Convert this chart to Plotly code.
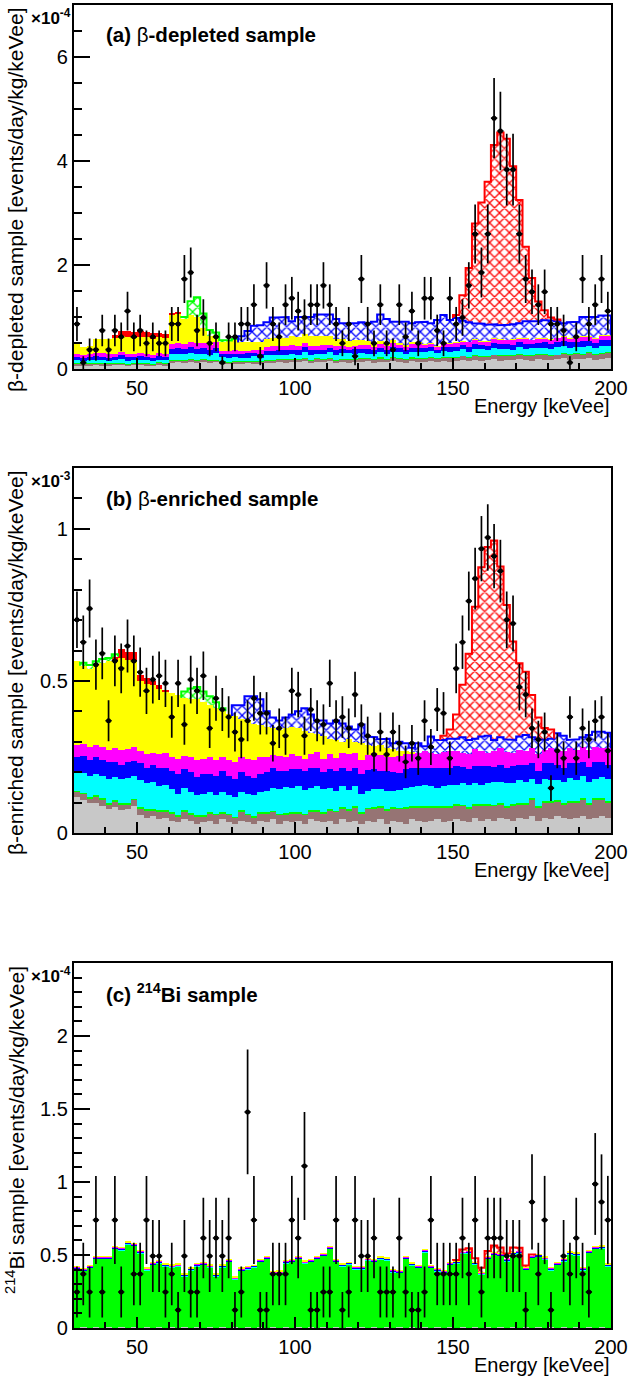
import math
import plotly.graph_objects as go

W, H = 630, 1378
FONT = "Liberation Sans"

# ---------------- bins (2 keVee wide, 30-200) ----------------
bin_left = list(range(30, 200, 2))
bin_center = [b + 1 for b in bin_left]

# ---------------- panel (a) beta-depleted, units 1e-4 ----------------
a_gray = [0.07,0.06,0.07,0.08,0.06,0.07,0.08,0.07,0.06,0.08,
          0.07,0.07,0.06,0.08,0.07,0.12,0.13,0.12,0.14,0.12,
          0.13,0.12,0.13,0.10,0.09,0.10,0.09,0.11,0.10,0.10,
          0.12,0.12,0.13,0.12,0.14,0.13,0.15,0.12,0.14,0.13,
          0.15,0.12,0.13,0.12,0.14,0.13,0.15,0.12,0.14,0.13,
          0.15,0.14,0.12,0.15,0.13,0.14,0.16,0.13,0.15,0.14,
          0.15,0.17,0.15,0.18,0.16,0.17,0.19,0.16,0.18,0.17,
          0.19,0.18,0.16,0.20,0.18,0.17,0.19,0.21,0.18,0.20,
          0.19,0.21,0.18,0.20,0.22]
a_brown = [0.03,0.04,0.03,0.03,0.04,0.03,0.03,0.04,0.03,0.03,
           0.04,0.03,0.03,0.04,0.03,0.04,0.04,0.05,0.04,0.04,
           0.05,0.04,0.04,0.04,0.04,0.04,0.05,0.04,0.05,0.04,
           0.05,0.05,0.05,0.06,0.05,0.05,0.06,0.05,0.06,0.05,
           0.06,0.05,0.06,0.06,0.05,0.07,0.06,0.06,0.07,0.06,
           0.07,0.06,0.07,0.06,0.07,0.07,0.06,0.07,0.07,0.08,
           0.07,0.08,0.07,0.08,0.08,0.07,0.08,0.09,0.08,0.08,
           0.09,0.08,0.09,0.08,0.09,0.09,0.08,0.09,0.10,0.09,
           0.09,0.10,0.09,0.10,0.09]
a_green = [0.010,0.008,0.010,0.012,0.010,0.008,0.010,0.010,0.012,0.008,
           0.010,0.010,0.008,0.012,0.010,0.010,0.008,0.010,0.012,0.010,
           0.008,0.010,0.010,0.012,0.010,0.008,0.010,0.010,0.012,0.010,
           0.010,0.008,0.010,0.012,0.010,0.010,0.008,0.010,0.012,0.010,
           0.010,0.008,0.010,0.012,0.010,0.010,0.008,0.010,0.012,0.010,
           0.010,0.008,0.010,0.012,0.010,0.010,0.008,0.010,0.012,0.010,
           0.010,0.008,0.010,0.012,0.010,0.010,0.008,0.010,0.012,0.010,
           0.010,0.008,0.010,0.012,0.010,0.010,0.008,0.010,0.012,0.010,
           0.010,0.008,0.010,0.012,0.010]
a_cyan = [0.06,0.05,0.06,0.06,0.07,0.05,0.06,0.07,0.06,0.05,
          0.06,0.07,0.06,0.05,0.06,0.11,0.12,0.10,0.11,0.12,
          0.11,0.10,0.12,0.07,0.07,0.08,0.07,0.06,0.08,0.07,
          0.08,0.09,0.08,0.07,0.09,0.08,0.10,0.09,0.08,0.09,
          0.10,0.09,0.10,0.11,0.09,0.10,0.08,0.10,0.11,0.09,
          0.10,0.11,0.09,0.10,0.12,0.10,0.11,0.09,0.11,0.10,
          0.11,0.12,0.10,0.12,0.13,0.11,0.12,0.13,0.12,0.11,
          0.13,0.12,0.14,0.12,0.13,0.12,0.14,0.13,0.12,0.13,
          0.14,0.13,0.12,0.14,0.13]
a_blue = [0.06,0.05,0.06,0.07,0.06,0.06,0.05,0.07,0.06,0.06,
          0.07,0.06,0.05,0.06,0.06,0.11,0.10,0.11,0.12,0.10,
          0.11,0.10,0.11,0.07,0.07,0.06,0.07,0.08,0.06,0.07,
          0.09,0.08,0.09,0.10,0.08,0.09,0.10,0.09,0.08,0.09,
          0.08,0.09,0.08,0.07,0.09,0.08,0.09,0.08,0.07,0.08,
          0.09,0.08,0.07,0.09,0.08,0.08,0.09,0.07,0.08,0.09,
          0.09,0.08,0.10,0.09,0.08,0.09,0.10,0.09,0.09,0.10,
          0.09,0.10,0.09,0.08,0.10,0.09,0.10,0.09,0.10,0.09,
          0.10,0.09,0.10,0.11,0.10]
a_magenta = [0.06,0.07,0.06,0.05,0.06,0.07,0.06,0.06,0.07,0.06,
             0.06,0.05,0.07,0.06,0.06,0.10,0.11,0.09,0.10,0.11,
             0.10,0.09,0.10,0.06,0.06,0.07,0.06,0.05,0.06,0.07,
             0.08,0.09,0.08,0.09,0.10,0.08,0.09,0.09,0.08,0.09,
             0.07,0.08,0.07,0.06,0.07,0.08,0.07,0.06,0.07,0.07,
             0.08,0.07,0.06,0.07,0.08,0.07,0.06,0.07,0.08,0.07,
             0.08,0.07,0.09,0.08,0.07,0.08,0.09,0.08,0.08,0.09,
             0.08,0.09,0.07,0.09,0.08,0.09,0.08,0.09,0.08,0.09,
             0.10,0.08,0.09,0.08,0.09]
a_yellow = [0.21,0.15,0.16,0.27,0.28,0.29,0.31,0.31,0.32,0.30,
            0.31,0.32,0.30,0.31,0.30,0.56,0.55,0.50,0.51,0.50,
            0.29,0.17,0.14,0.16,0.20,0.21,0.16,0.17,0.15,0.16,
            0.15,0.16,0.15,0.14,0.17,0.18,0.17,0.19,0.18,0.17,
            0.16,0.14,0.12,0.11,0.10,0.09,0.08,0.07,0.06,0.06,
            0.05,0.04,0.04,0.03,0.02,0.02,0.02,0.01,0.01,0.01,
            0.01,0.01,0.005,0.01,0.005,0.01,0.005,0.01,0.005,0.01,
            0.005,0.01,0.005,0.01,0.005,0.01,0.005,0.01,0.005,0.01,
            0.005,0.01,0.005,0.01,0.005]
a_red = [0,0,0,0,0,0,0.05,0.10,0.12,0.13,
         0.11,0.10,0.11,0.09,0.08,0.03,0.03,0,0,0,
         0,0,0,0,0,0,0,0,0,0,
         0,0,0,0,0,0,0,0,0,0,
         0,0,0,0,0,0,0,0,0,0,
         0,0,0,0,0,0,0,0,0,0,
         0,0,0,0,0,0,0,0,0,0,
         0,0,0,0,0,0,0,0,0,0,
         0,0,0,0,0]
a_ghatch = [0,0,0,0,0,0,0,0,0,0,
            0,0,0,0,0,0,0,0.02,0.27,0.38,
            0.27,0.12,0.05,0.04,0.01,0.01,0,0,0,0,
            0,0,0,0,0,0,0,0,0,0,
            0,0,0,0,0,0,0,0,0,0,
            0,0,0,0,0,0,0,0,0,0,
            0,0,0,0,0,0,0,0,0,0,
            0,0,0,0,0,0,0,0,0,0,
            0,0,0,0,0]
# top of the stack including blue-hatched component (0 = none)
a_bhatch_top = [0,0,0,0,0,0,0,0,0,0,
                0,0,0,0,0,0,0,0,0,0,
                0,0,0,0,0,0.56,0.63,0.73,0.83,0.84,
                0.90,0.99,0.99,1.00,0.92,1.00,1.01,1.00,1.05,1.06,
                1.05,0.96,0.88,0.89,0.88,0.90,0.88,0.91,1.05,0.96,
                0.91,0.90,0.91,0.88,0.90,0.91,0.88,0.94,1.04,0.94,
                0.98,0.93,0.90,0.88,0.87,0.85,0.86,0.84,0.85,0.86,
                0.88,0.92,0.93,0.92,0.94,0.93,0.92,0.88,0.90,0.91,
                1.00,1.00,1.00,1.03,1.03]
a_rhatch_top = [0,0,0,0,0,0,0,0,0,0,
                0,0,0,0,0,0,0,0,0,0,
                0,0,0,0,0,0,0,0,0,0,
                0,0,0,0,0,0,0,0,0,0,
                0,0,0,0,0,0,0,0,0,0,
                0,0,0,0,0,0,0,0,0,0,
                1.04,1.42,1.94,2.80,3.20,3.60,4.31,4.55,4.43,3.90,
                3.25,2.35,1.75,1.30,1.13,0.99,0.95,0,0,0,
                0,0,0,0,0]
a_counts = [7,1,3,3,6,3,6,5,9,5,
            6,4,5,4,4,7,7,14,15,6,
            8,4,5,1,5,5,7,7,10,2,
            13,7,5,10,11,9,8,10,10,13,
            10,7,4,7,2,14,7,4,10,4,
            3,10,5,9,4,11,11,6,4,11,
            7,8,13,21,15,21,39,37,31,31,
            21,14,12,10,12,7,7,6,1,5,
            14,7,10,14,9]
a_unit = 0.1237

# ---------------- panel (b) beta-enriched, units 1e-3 ----------------
b_gray = [0.12,0.11,0.10,0.10,0.09,0.08,0.085,0.075,0.08,0.09,
          0.06,0.05,0.055,0.045,0.05,0.04,0.035,0.045,0.04,0.03,
          0.035,0.04,0.03,0.045,0.035,0.03,0.04,0.035,0.03,0.04,
          0.035,0.045,0.03,0.04,0.035,0.04,0.03,0.045,0.04,0.035,
          0.04,0.03,0.045,0.035,0.04,0.03,0.04,0.035,0.045,0.03,
          0.04,0.035,0.03,0.045,0.04,0.035,0.04,0.045,0.035,0.04,
          0.045,0.04,0.035,0.05,0.04,0.045,0.04,0.05,0.045,0.04,
          0.05,0.045,0.055,0.04,0.05,0.045,0.055,0.05,0.045,0.05,
          0.055,0.045,0.05,0.055,0.05]
b_brown = [0.015,0.02,0.015,0.02,0.02,0.015,0.02,0.02,0.015,0.02,
           0.02,0.025,0.02,0.025,0.02,0.025,0.02,0.025,0.02,0.025,
           0.02,0.025,0.03,0.02,0.025,0.02,0.03,0.025,0.02,0.025,
           0.03,0.025,0.03,0.02,0.03,0.025,0.03,0.025,0.03,0.03,
           0.035,0.04,0.035,0.04,0.045,0.035,0.04,0.045,0.04,0.045,
           0.04,0.045,0.05,0.04,0.045,0.05,0.045,0.04,0.05,0.045,
           0.045,0.05,0.045,0.04,0.05,0.045,0.05,0.045,0.04,0.05,
           0.045,0.05,0.055,0.045,0.05,0.055,0.05,0.045,0.055,0.05,
           0.055,0.05,0.06,0.055,0.05]
b_green = [0.004,0.003,0.004,0.005,0.004,0.003,0.004,0.004,0.005,0.003,
           0.004,0.004,0.003,0.005,0.004,0.004,0.003,0.004,0.005,0.004,
           0.003,0.004,0.004,0.005,0.004,0.003,0.004,0.004,0.005,0.004,
           0.004,0.003,0.004,0.005,0.004,0.004,0.003,0.004,0.005,0.004,
           0.004,0.003,0.004,0.005,0.004,0.004,0.003,0.004,0.005,0.004,
           0.004,0.003,0.004,0.005,0.004,0.004,0.003,0.004,0.005,0.004,
           0.004,0.003,0.004,0.005,0.004,0.004,0.003,0.004,0.005,0.004,
           0.004,0.003,0.004,0.005,0.004,0.004,0.003,0.004,0.005,0.004,
           0.004,0.003,0.004,0.005,0.004]
b_cyan = [0.06,0.065,0.07,0.07,0.075,0.08,0.075,0.08,0.08,0.075,
          0.09,0.085,0.09,0.08,0.085,0.075,0.07,0.075,0.07,0.065,
          0.07,0.065,0.06,0.065,0.06,0.065,0.06,0.065,0.07,0.065,
          0.07,0.075,0.08,0.085,0.08,0.085,0.08,0.075,0.08,0.075,
          0.07,0.065,0.07,0.06,0.065,0.06,0.055,0.06,0.055,0.06,
          0.055,0.06,0.065,0.06,0.065,0.07,0.065,0.06,0.065,0.07,
          0.065,0.07,0.075,0.07,0.065,0.07,0.075,0.07,0.075,0.07,
          0.075,0.07,0.065,0.07,0.075,0.07,0.065,0.07,0.075,0.07,
          0.075,0.07,0.065,0.07,0.075]
b_blue = [0.05,0.055,0.05,0.055,0.05,0.055,0.05,0.045,0.055,0.05,
          0.055,0.05,0.055,0.06,0.055,0.06,0.065,0.06,0.065,0.06,
          0.065,0.06,0.065,0.07,0.065,0.06,0.065,0.06,0.055,0.06,
          0.06,0.065,0.06,0.055,0.06,0.055,0.06,0.065,0.06,0.055,
          0.06,0.065,0.06,0.065,0.06,0.065,0.07,0.065,0.06,0.065,
          0.06,0.055,0.06,0.065,0.06,0.055,0.06,0.065,0.06,0.055,
          0.06,0.055,0.05,0.055,0.06,0.055,0.05,0.055,0.05,0.055,
          0.05,0.055,0.05,0.045,0.05,0.055,0.05,0.045,0.05,0.055,
          0.045,0.05,0.055,0.05,0.045]
b_magenta = [0.04,0.04,0.045,0.04,0.045,0.04,0.045,0.05,0.04,0.045,
             0.04,0.045,0.04,0.045,0.05,0.045,0.05,0.045,0.05,0.055,
             0.05,0.055,0.05,0.045,0.05,0.055,0.05,0.055,0.06,0.055,
             0.05,0.045,0.05,0.045,0.05,0.045,0.04,0.045,0.05,0.045,
             0.05,0.045,0.05,0.055,0.05,0.045,0.05,0.055,0.05,0.045,
             0.05,0.055,0.05,0.045,0.05,0.055,0.05,0.045,0.05,0.055,
             0.05,0.045,0.05,0.055,0.05,0.045,0.05,0.055,0.05,0.045,
             0.05,0.045,0.05,0.055,0.045,0.05,0.045,0.055,0.05,0.045,
             0.05,0.055,0.05,0.045,0.055]
# top of stack including yellow (0 = no yellow)
b_yellow_top = [0.565,0.55,0.54,0.555,0.56,0.565,0.57,0.575,0.57,0.565,
                0.50,0.49,0.485,0.475,0.465,0.46,0.455,0.445,0.44,0.44,
                0.43,0.42,0.41,0.40,0.39,0.385,0.375,0.37,0.36,0.355,
                0.35,0.345,0.34,0.345,0.35,0.345,0.335,0.33,0.325,0.32,
                0.31,0.305,0.30,0.31,0.30,0.295,0.29,0.285,0.29,0.28,
                0.275,0.27,0.27,0.265,0.26,0,0,0,0,0,
                0,0,0,0,0,0,0,0,0,0,
                0,0,0,0,0,0,0,0,0,0,
                0,0,0,0,0]
b_red = [0,0,0,0,0,0,0.01,0.03,0.025,0.03,
         0.02,0.02,0.015,0.01,0.005,0,0,0,0,0,
         0,0,0,0,0,0,0,0,0,0,
         0,0,0,0,0,0,0,0,0,0,
         0,0,0,0,0,0,0,0,0,0,
         0,0,0,0,0,0,0,0,0,0,
         0,0,0,0,0,0,0,0,0,0,
         0,0,0,0,0,0,0,0,0,0,
         0,0,0,0,0]
b_ghatch = [0,0.01,0.012,0.01,0.012,0.01,0.008,0,0,0,
            0,0,0,0,0,0,0,0.02,0.035,0.04,
            0.035,0.03,0.02,0.01,0,0,0,0,0,0,
            0,0,0,0,0,0,0,0,0,0,
            0,0,0,0,0,0,0,0,0,0,
            0,0,0,0,0,0,0,0,0,0,
            0,0,0,0,0,0,0,0,0,0,
            0,0,0,0,0,0,0,0,0,0,
            0,0,0,0,0]
b_bhatch_top = [0,0,0,0,0,0,0,0,0,0,
                0,0,0,0,0,0,0,0,0,0,
                0,0,0,0,0,0.42,0.42,0.45,0.45,0.44,
                0.40,0.38,0.37,0.38,0.39,0.40,0.41,0.39,0.37,0.37,
                0.36,0.37,0.36,0.35,0.34,0.357,0.317,0.315,0.308,0.31,
                0.295,0.30,0.295,0.28,0.295,0.285,0.317,0.306,0.306,0.31,
                0.31,0.315,0.306,0.31,0.317,0.32,0.306,0.315,0.308,0.306,
                0.317,0.322,0.315,0.308,0.306,0.31,0.328,0.32,0.306,0.308,
                0.315,0.322,0.333,0.333,0.33]
b_rhatch_top = [0,0,0,0,0,0,0,0,0,0,
                0,0,0,0,0,0,0,0,0,0,
                0,0,0,0,0,0,0,0,0,0,
                0,0,0,0,0,0,0,0,0,0,
                0,0,0,0,0,0,0,0,0,0,
                0,0,0,0,0,0,0,0,0.32,0.34,
                0.39,0.487,0.589,0.744,0.874,0.94,0.962,0.876,0.75,0.63,
                0.558,0.53,0.454,0.38,0.345,0.34,0,0,0,0,
                0,0,0,0,0]
b_counts = [57,51,60,45,48,30,46,44,50,46,
            43,38,41,42,40,31,40,29,41,38,
            42,28,36,33,31,27,25,30,36,32,
            32,24,28,26,38,37,26,33,30,29,
            40,30,31,28,37,29,26,21,27,21,
            27,24,19,24,20,30,23,33,32,20,
            44,51,62,68,76,79,74,70,57,56,
            39,37,28,25,27,12,22,20,31,20,
            28,25,30,31,22]
b_unit = 0.0123

# ---------------- panel (c) 214Bi, units 1e-4 ----------------
c_gray = [0.003,0.004,0.003,0.004,0.003,0.004,0.003,0.004,0.003,0.004,
          0.003,0.004,0.003,0.004,0.003,0.004,0.003,0.004,0.003,0.004,
          0.003,0.004,0.003,0.004,0.003,0.004,0.003,0.004,0.003,0.004,
          0.003,0.004,0.003,0.004,0.003,0.004,0.003,0.004,0.003,0.004,
          0.003,0.004,0.003,0.004,0.003,0.004,0.003,0.004,0.003,0.004,
          0.003,0.004,0.003,0.004,0.003,0.004,0.003,0.004,0.003,0.004,
          0.003,0.004,0.003,0.004,0.003,0.004,0.003,0.004,0.003,0.004,
          0.003,0.004,0.003,0.004,0.003,0.004,0.003,0.004,0.003,0.004,
          0.003,0.004,0.003,0.004,0.003]
c_green = [0.40,0.39,0.41,0.47,0.47,0.47,0.54,0.53,0.57,0.56,
           0.51,0.39,0.43,0.44,0.42,0.41,0.42,0.35,0.39,0.42,
           0.43,0.41,0.35,0.41,0.45,0.33,0.39,0.40,0.41,0.45,
           0.47,0.37,0.37,0.44,0.45,0.47,0.44,0.45,0.47,0.49,
           0.54,0.45,0.42,0.43,0.40,0.40,0.46,0.45,0.466,0.46,
           0.38,0.374,0.47,0.425,0.41,0.516,0.41,0.386,0.374,0.43,
           0.44,0.507,0.51,0.43,0.363,0.47,0.50,0.49,0.454,0.50,
           0.51,0.397,0.477,0.484,0.466,0.393,0.43,0.454,0.50,0.493,
           0.393,0.51,0.54,0.54,0.42]
c_cyan = [0.004,0.003,0.004,0.005,0.004,0.003,0.004,0.004,0.005,0.003,
          0.004,0.004,0.003,0.005,0.004,0.004,0.003,0.004,0.005,0.004,
          0.003,0.004,0.004,0.005,0.004,0.003,0.004,0.004,0.005,0.004,
          0.004,0.003,0.004,0.005,0.004,0.004,0.003,0.004,0.005,0.004,
          0.004,0.003,0.004,0.005,0.004,0.004,0.003,0.004,0.005,0.004,
          0.004,0.003,0.004,0.005,0.004,0.004,0.003,0.004,0.005,0.004,
          0.004,0.003,0.004,0.005,0.004,0.004,0.003,0.004,0.005,0.004,
          0.004,0.003,0.004,0.005,0.004,0.004,0.003,0.004,0.005,0.004,
          0.004,0.003,0.004,0.005,0.004]
c_blue = [0.006,0.005,0.006,0.007,0.006,0.005,0.006,0.006,0.007,0.005,
          0.006,0.006,0.005,0.007,0.006,0.006,0.005,0.006,0.007,0.006,
          0.005,0.006,0.006,0.007,0.006,0.005,0.006,0.006,0.007,0.006,
          0.006,0.005,0.006,0.007,0.006,0.006,0.005,0.006,0.007,0.006,
          0.006,0.005,0.006,0.007,0.006,0.006,0.005,0.006,0.007,0.006,
          0.006,0.005,0.006,0.007,0.006,0.006,0.005,0.006,0.007,0.006,
          0.006,0.005,0.006,0.007,0.006,0.006,0.005,0.006,0.007,0.006,
          0.006,0.005,0.006,0.007,0.006,0.006,0.005,0.006,0.007,0.006,
          0.006,0.005,0.006,0.007,0.006]
c_magenta = [0.005,0.006,0.005,0.004,0.005,0.006,0.005,0.005,0.004,0.006,
             0.005,0.005,0.006,0.004,0.005,0.005,0.006,0.005,0.004,0.005,
             0.006,0.005,0.005,0.004,0.005,0.006,0.005,0.005,0.004,0.005,
             0.005,0.006,0.005,0.004,0.005,0.005,0.006,0.005,0.004,0.005,
             0.005,0.006,0.005,0.004,0.005,0.005,0.006,0.005,0.004,0.005,
             0.005,0.006,0.005,0.004,0.005,0.005,0.006,0.005,0.004,0.005,
             0.005,0.006,0.005,0.004,0.005,0.005,0.006,0.005,0.004,0.005,
             0.005,0.006,0.005,0.004,0.005,0.005,0.006,0.005,0.004,0.005,
             0.005,0.006,0.005,0.004,0.005]
c_yellow = [0.003,0.002,0.003,0.003,0.002,0.003,0.003,0.002,0.003,0.003,
            0.002,0.003,0.003,0.002,0.003,0.003,0.002,0.003,0.003,0.002,
            0.003,0.003,0.002,0.003,0.003,0.002,0.003,0.003,0.002,0.003,
            0.003,0.002,0.003,0.003,0.002,0.003,0.003,0.002,0.003,0.003,
            0.002,0.003,0.003,0.002,0.003,0.003,0.002,0.003,0.003,0.002,
            0.003,0.003,0.002,0.003,0.003,0.002,0.003,0.003,0.002,0.003,
            0.003,0.002,0.003,0.003,0.002,0.003,0.003,0.002,0.003,0.003,
            0.002,0.003,0.003,0.002,0.003,0.003,0.002,0.003,0.003,0.002,
            0.003,0.003,0.002,0.003,0.003]
c_rhatch = [0,0,0,0,0,0,0,0,0,0,
            0,0,0,0,0,0,0,0,0,0,
            0,0,0,0,0,0,0,0,0,0,
            0,0,0,0,0,0,0,0,0,0,
            0,0,0,0,0,0,0,0,0,0,
            0,0,0,0,0,0,0,0,0,0,
            0.005,0.01,0.015,0.025,0.03,0.035,0.045,0.04,0.035,0.03,
            0.02,0.01,0.005,0,0,0,0,0,0,0,
            0,0,0,0,0]
c_counts = [2,3,2,6,2,0,6,2,0,3,
            3,6,4,4,2,3,1,4,2,2,
            5,4,5,4,5,1,2,12,6,1,
            1,3,3,3,6,5,9,1,1,2,
            2,6,1,2,6,4,4,5,2,2,
            2,5,2,1,1,2,6,3,3,3,
            3,5,3,6,2,5,5,5,4,4,
            4,1,7,3,6,1,0,4,3,5,
            3,2,8,7,6]
c_unit = 0.1233

# ---------------- colours ----------------
COL = dict(gray="#c8c8c8", brown="#967474", green="#00ff00", cyan="#00ffff",
           blue="#0000ff", magenta="#ff00ff", yellow="#ffff00", red="#ff0000")

# pixel geometry of the three frames (top, bottom)
X0, X1 = 73.8, 611.0
frames = {"a": (5, 369), "b": (468, 833), "c": (963, 1328)}
ranges = {"a": 7.0, "b": 1.2, "c": 2.5}
yticks = {"a": ([0, 2, 4, 6], 0.5), "b": ([0, 0.5, 1], 0.1),
          "c": ([0, 0.5, 1, 1.5, 2], 0.1)}
axid = {"a": ("x", "y"), "b": ("x2", "y2"), "c": ("x3", "y3")}

fig = go.Figure()


def stack(panel, layers):
    """layers: list of (values, kind, colour, is_top); kind 'solid' or 'hatch'"""
    xa, ya = axid[panel]
    below = [0.0] * len(bin_left)
    outlines = []
    for vals, kind, colour, is_top in layers:
        if is_top:
            th = [max(t - b, 0.0) if t > 0 else 0.0 for t, b in zip(vals, below)]
        else:
            th = list(vals)
        if kind == "solid":
            marker = dict(color=colour, line=dict(width=0))
        else:
            marker = dict(color="white", line=dict(width=0),
                          pattern=dict(shape="x", fgcolor=colour, bgcolor="white",
                                       size=7, solidity=0.33, fillmode="replace"))
        fig.add_trace(go.Bar(x=bin_center, y=th, width=2, marker=marker,
                             xaxis=xa, yaxis=ya, showlegend=False, hoverinfo="skip"))
        top = [b + t for b, t in zip(below, th)]
        if kind == "hatch":
            i, n = 0, len(th)
            while i < n:
                if th[i] > 1e-9:
                    j = i
                    while j + 1 < n and th[j + 1] > 1e-9:
                        j += 1
                    xs = [bin_left[i]]
                    ys = [below[i]]
                    for k in range(i, j + 1):
                        xs += [bin_left[k], bin_left[k] + 2]
                        ys += [top[k], top[k]]
                    xs.append(bin_left[j] + 2)
                    ys.append(below[j])
                    outlines.append((xs, ys, colour))
                    i = j + 1
                else:
                    i += 1
        below = top
    for xs, ys, colour in outlines:
        fig.add_trace(go.Scatter(x=xs, y=ys, mode="lines",
                                 line=dict(color=colour, width=2),
                                 xaxis=xa, yaxis=ya, showlegend=False, hoverinfo="skip"))


def points(panel, counts, unit):
    xa, ya = axid[panel]
    xs, ys, es = [], [], []
    for c, n in zip(bin_center, counts):
        if n > 0:
            xs.append(c)
            ys.append(n * unit)
            es.append(math.sqrt(n) * unit)
    fig.add_trace(go.Scatter(
        x=xs, y=ys, mode="markers", xaxis=xa, yaxis=ya, showlegend=False,
        marker=dict(symbol="circle", size=5, color="black"),
        error_y=dict(type="data", array=es, thickness=1.7, width=0, color="black"),
        error_x=dict(type="constant", value=1, thickness=1.7, width=0, color="black"),
        hoverinfo="skip"))


stack("a", [(a_gray, "solid", COL["gray"], False),
            (a_brown, "solid", COL["brown"], False),
            (a_green, "solid", COL["green"], False),
            (a_cyan, "solid", COL["cyan"], False),
            (a_blue, "solid", COL["blue"], False),
            (a_magenta, "solid", COL["magenta"], False),
            (a_yellow, "solid", COL["yellow"], False),
            (a_red, "solid", COL["red"], False),
            (a_ghatch, "hatch", COL["green"], False),
            (a_bhatch_top, "hatch", COL["blue"], True),
            (a_rhatch_top, "hatch", COL["red"], True)])
points("a", a_counts, a_unit)

stack("b", [(b_gray, "solid", COL["gray"], False),
            (b_brown, "solid", COL["brown"], False),
            (b_green, "solid", COL["green"], False),
            (b_cyan, "solid", COL["cyan"], False),
            (b_blue, "solid", COL["blue"], False),
            (b_magenta, "solid", COL["magenta"], False),
            (b_yellow_top, "solid", COL["yellow"], True),
            (b_red, "solid", COL["red"], False),
            (b_ghatch, "hatch", COL["green"], False),
            (b_bhatch_top, "hatch", COL["blue"], True),
            (b_rhatch_top, "hatch", COL["red"], True)])
points("b", b_counts, b_unit)

stack("c", [(c_gray, "solid", COL["gray"], False),
            (c_green, "solid", COL["green"], False),
            (c_cyan, "solid", COL["cyan"], False),
            (c_blue, "solid", COL["blue"], False),
            (c_magenta, "solid", COL["magenta"], False),
            (c_yellow, "solid", COL["yellow"], False),
            (c_rhatch, "hatch", COL["red"], False)])
points("c", c_counts, c_unit)

# ---------------- axes ----------------
layout = dict(width=W, height=H, margin=dict(l=0, r=0, t=0, b=0, autoexpand=False),
              paper_bgcolor="white", plot_bgcolor="white",
              barmode="stack", bargap=0, showlegend=False,
              font=dict(family=FONT, color="black"))

for p, (xa, ya) in axid.items():
    top, bot = frames[p]
    xkey = "xaxis" if xa == "x" else "xaxis" + xa[1:]
    ykey = "yaxis" if ya == "y" else "yaxis" + ya[1:]
    layout[xkey] = dict(domain=[X0 / W, X1 / W], anchor=ya, range=[30, 200],
                        showline=True, mirror=True, linecolor="black", linewidth=2,
                        ticks="inside", ticklen=11, tickwidth=1.5, tickcolor="black",
                        tickvals=[50, 100, 150, 200], automargin=False,
                        minor=dict(ticks="inside", ticklen=6, dtick=10, tickwidth=1.5,
                                   tickcolor="black", showgrid=False),
                        showgrid=False, zeroline=False,
                        tickfont=dict(family=FONT, size=20, color="black"))
    layout[ykey] = dict(domain=[1 - bot / H, 1 - top / H], anchor=xa,
                        range=[0, ranges[p]], automargin=False,
                        showline=True, mirror=True, linecolor="black", linewidth=2,
                        ticks="inside", ticklen=16, tickwidth=1.5, tickcolor="black",
                        tickvals=yticks[p][0],
                        minor=dict(ticks="inside", ticklen=8, dtick=yticks[p][1],
                                   tickwidth=1.5, tickcolor="black", showgrid=False),
                        showgrid=False, zeroline=False,
                        tickfont=dict(family=FONT, size=20, color="black"))
fig.update_layout(**layout)

# ---------------- texts ----------------
titles = {"a": "<b>(a) </b>β<b>-depleted sample</b>",
          "b": "<b>(b) </b>β<b>-enriched sample</b>",
          "c": "<b>(c) <sup>214</sup>Bi sample</b>"}
ytitles = {"a": "β-depleted sample [events/day/kg/keVee]",
           "b": "β-enriched sample [events/day/kg/keVee]",
           "c": "<sup>214</sup>Bi sample [events/day/kg/keVee]"}
expo = {"a": "<b>×10<sup>-4</sup></b>", "b": "<b>×10<sup>-3</sup></b>",
        "c": "<b>×10<sup>-4</sup></b>"}

ann = []
for p in ("a", "b", "c"):
    top, bot = frames[p]
    ann.append(dict(text=titles[p], xref="paper", yref="paper",
                    x=104 / W, y=1 - (top + 30) / H, xanchor="left", yanchor="middle",
                    showarrow=False, font=dict(family=FONT, size=20.5, color="black")))
    ann.append(dict(text=ytitles[p], xref="paper", yref="paper", textangle=-90,
                    x=15 / W, y=1 - (top + 1) / H, xanchor="center", yanchor="top",
                    showarrow=False, font=dict(family=FONT, size=21, color="black")))
    ann.append(dict(text="Energy [keVee]", xref="paper", yref="paper",
                    x=612 / W, y=1 - (bot + 24) / H, xanchor="right", yanchor="top",
                    showarrow=False, font=dict(family=FONT, size=20, color="black")))
    ann.append(dict(text=expo[p], xref="paper", yref="paper",
                    x=73 / W, y=1 - (top + 12) / H, xanchor="right", yanchor="middle",
                    showarrow=False, font=dict(family=FONT, size=17, color="black")))
fig.update_layout(annotations=ann)

fig.write_html("out.html", config={"responsive": False, "displayModeBar": False},
               post_script="document.body.style.margin='0';"
                           "document.body.style.padding='0';"
                           "document.body.style.overflow='hidden';")
